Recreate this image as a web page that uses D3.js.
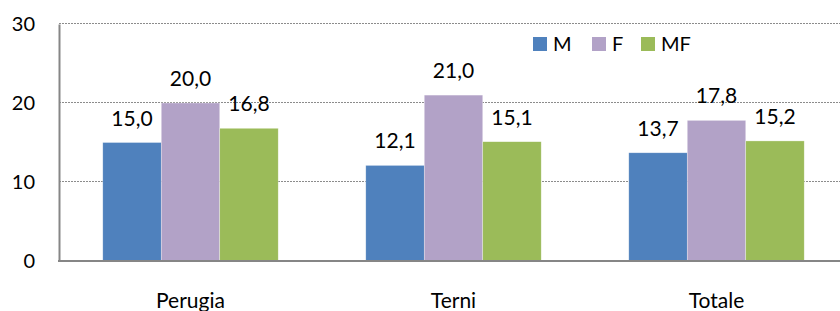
<!DOCTYPE html>
<html>
<head>
<meta charset="utf-8">
<title></title>
<script src="https://d3js.org/d3.v7.min.js"></script>
<style>
    body { margin: 0; background: #fff; }
    text { font-family: Lato, "Open Sans", sans-serif; fill: #000; }
</style>
</head>
<body>
<div id="drawArea"></div>
<script>
    // data
    var categories = ["Perugia", "Terni", "Totale"];
    var seriesNames = ["M", "F", "MF"];
    var valuesM = [15.0, 12.1, 13.7];
    var valuesF = [20.0, 21.0, 17.8];
    var valuesMF = [16.8, 15.1, 15.2];
    var yTicks = [0, 10, 20, 30];
    var colors = ["#4F81BD", "#B2A2C7", "#9BBB59"];

    var series = [valuesM, valuesF, valuesMF];

    var width = 840, height = 311;
    var plotLeft = 59, plotTop = 24, plotBottom = 261;
    var plotRight = plotLeft + 789; // plot goes past the right edge

    var svg = d3.select("#drawArea").append("svg")
        .attr("width", width)
        .attr("height", height);

    var y = d3.scaleLinear().domain([0, 30]).range([plotBottom, plotTop]);

    var x0 = d3.scaleBand()
        .domain(categories)
        .range([plotLeft, plotRight])
        .paddingInner(0.333)
        .paddingOuter(0.1665);

    var x1 = d3.scaleBand()
        .domain(seriesNames)
        .range([0, x0.bandwidth()]);

    // dotted gridlines
    svg.append("g").selectAll("line")
        .data(yTicks.filter(function (d) { return d > 0; }))
        .enter().append("line")
        .attr("x1", plotLeft)
        .attr("x2", width)
        .attr("y1", function (d) { return Math.round(y(d)) - 0.5; })
        .attr("y2", function (d) { return Math.round(y(d)) - 0.5; })
        .attr("stroke", "#8c8c8c")
        .attr("stroke-width", 1)
        .attr("stroke-dasharray", "2,1");

    // bars
    var groups = svg.append("g").selectAll("g")
        .data(categories)
        .enter().append("g")
        .attr("transform", function (d) { return "translate(" + x0(d) + ",0)"; });

    groups.selectAll("rect")
        .data(function (d, i) {
            return seriesNames.map(function (s, j) { return { s: s, v: series[j][i], c: colors[j] }; });
        })
        .enter().append("rect")
        .attr("x", function (d) { return x1(d.s); })
        .attr("y", function (d) { return y(d.v); })
        .attr("width", x1.bandwidth())
        .attr("height", function (d) { return plotBottom - y(d.v); })
        .attr("fill", function (d) { return d.c; })
        .attr("stroke", "#fff")
        .attr("stroke-opacity", 0.5)
        .attr("stroke-width", 0.6);

    groups.selectAll("text")
        .data(function (d, i) {
            return seriesNames.map(function (s, j) { return { s: s, v: series[j][i] }; });
        })
        .enter().append("text")
        .attr("x", function (d) { return x1(d.s) + x1.bandwidth() / 2; })
        .attr("y", function (d) { return y(d.v) - 17; })
        .attr("text-anchor", "middle")
        .attr("font-size", "21px")
        .text(function (d) { return d.v.toFixed(1).replace(".", ","); });

    // y axis
    var yAxis = d3.axisLeft(y).tickValues(yTicks).tickSize(0).tickPadding(24);
    var ya = svg.append("g")
        .attr("transform", "translate(" + plotLeft + ",0)")
        .call(yAxis);
    ya.select(".domain").attr("stroke", "#868686").attr("stroke-width", 2);
    ya.selectAll("text")
        .attr("font-size", "20px")
        .attr("font-family", "Lato, 'Open Sans', sans-serif")
        .attr("fill", "#000")
        .attr("dy", "0.33em");

    // x axis
    var xAxis = d3.axisBottom(x0).tickSize(0).tickPadding(32);
    var xa = svg.append("g")
        .attr("transform", "translate(0," + plotBottom + ")")
        .call(xAxis);
    xa.select(".domain").remove();
    svg.append("line")
        .attr("x1", plotLeft - 1).attr("x2", width)
        .attr("y1", plotBottom).attr("y2", plotBottom)
        .attr("stroke", "#868686").attr("stroke-width", 2);
    xa.selectAll("text")
        .attr("font-size", "21px")
        .attr("font-family", "Lato, 'Open Sans', sans-serif")
        .attr("fill", "#000");

    // legend
    var legendX = [533, 592, 641];
    var legend = svg.append("g").selectAll("g")
        .data(seriesNames)
        .enter().append("g")
        .attr("transform", function (d, i) { return "translate(" + legendX[i] + ",37)"; });
    legend.append("rect")
        .attr("width", 14).attr("height", 14)
        .attr("fill", function (d, i) { return colors[i]; });
    legend.append("text")
        .attr("x", 20).attr("y", 14)
        .attr("font-size", "20px")
        .text(function (d) { return d; });
</script>
</body>
</html>
